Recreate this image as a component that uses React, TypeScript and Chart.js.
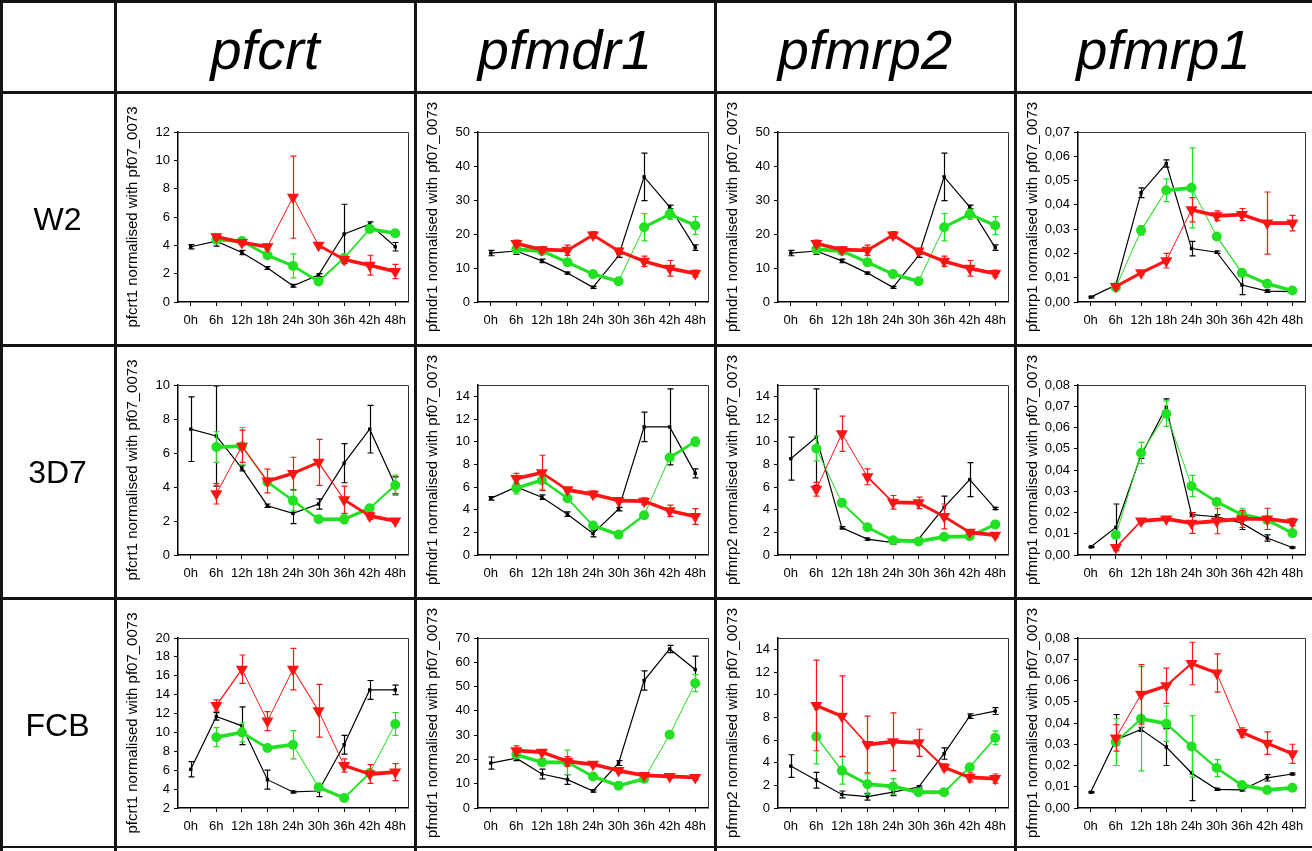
import React, { useEffect, useRef } from 'react';
import { Chart, registerables } from 'chart.js';
Chart.register(...registerables);

// ---------- labels ----------
const timeLabels = ['0h', '6h', '12h', '18h', '24h', '30h', '36h', '42h', '48h'];
const geneHeaders = ['pfcrt', 'pfmdr1', 'pfmrp2', 'pfmrp1'];
const strainLabels = ['W2', '3D7', 'FCB'];
const yTitlesW2 = ['pfcrt1 normalised with pf07_0073', 'pfmdr1 normalised with pf07_0073', 'pfmdr1 normalised with pf07_0073', 'pfmrp1 normalised with pf07_0073'];
const yTitles3D7 = ['pfcrt1 normalised with pf07_0073', 'pfmdr1 normalised with pf07_0073', 'pfmrp2 normalised with pf07_0073', 'pfmrp1 normalised with pf07_0073'];
const yTitlesFCB = ['pfcrt1 normalised with pf07_0073', 'pfmdr1 normalised with pf07_0073', 'pfmrp2 normalised with pf07_0073', 'pfmrp1 normalised with pf07_0073'];

// ---------- W2 ----------
const w2PfcrtBlack = [3.9, 4.3, 3.5, 2.4, 1.15, 1.9, 4.8, 5.5, 3.9];
const w2PfcrtBlackErr = [0.15, 0.35, 0.15, 0.1, 0.1, 0.1, 2.1, 0.15, 0.3];
const w2PfcrtGreen = [null, 4.4, 4.3, 3.3, 2.55, 1.45, 3.1, 5.15, 4.85];
const w2PfcrtGreenErr = [0, 0.25, 0.2, 0.2, 0.85, 0.15, 0.2, 0.2, 0.2];
const w2PfcrtRed = [null, 4.6, 4.2, 3.9, 7.4, 4.0, 3.0, 2.6, 2.15];
const w2PfcrtRedErr = [0, 0.2, 0.2, 0.2, 2.9, 0.2, 0.2, 0.7, 0.5];

const w2PfmdrBlack = [14.4, 15.0, 12.1, 8.5, 4.3, 13.6, 36.8, 28.0, 16.0];
const w2PfmdrBlackErr = [0.8, 1.0, 0.5, 0.3, 0.3, 0.5, 7.0, 0.5, 0.8];
const w2PfmdrGreen = [null, 15.5, 15.0, 11.7, 8.2, 6.1, 22.0, 25.8, 22.5];
const w2PfmdrGreenErr = [0, 1.0, 0.8, 1.0, 0.8, 0.6, 4.0, 1.5, 2.6];
const w2PfmdrRed = [null, 17.2, 15.4, 15.2, 19.7, 15.0, 12.0, 9.9, 8.4];
const w2PfmdrRedErr = [0, 1.0, 0.8, 1.5, 1.0, 0.8, 1.5, 2.3, 1.0];

const w2Pfmrp2Black = [14.4, 15.0, 12.1, 8.5, 4.3, 13.6, 36.8, 28.0, 16.0];
const w2Pfmrp2BlackErr = [0.8, 1.0, 0.5, 0.3, 0.3, 0.5, 7.0, 0.5, 0.8];
const w2Pfmrp2Green = [null, 15.5, 15.0, 11.7, 8.2, 6.1, 22.0, 25.8, 22.5];
const w2Pfmrp2GreenErr = [0, 1.0, 0.8, 1.0, 0.8, 0.6, 4.0, 1.5, 2.6];
const w2Pfmrp2Red = [null, 17.2, 15.4, 15.2, 19.7, 15.0, 12.0, 9.9, 8.4];
const w2Pfmrp2RedErr = [0, 1.0, 0.8, 1.5, 1.0, 0.8, 1.5, 2.3, 1.0];

const w2Pfmrp1Black = [0.002, 0.007, 0.045, 0.057, 0.022, 0.0205, 0.007, 0.0045, 0.0043];
const w2Pfmrp1BlackErr = [0.0003, 0.0007, 0.002, 0.0015, 0.003, 0.0005, 0.004, 0.0005, 0.0003];
const w2Pfmrp1Green = [null, 0.006, 0.0295, 0.046, 0.047, 0.027, 0.012, 0.0075, 0.0047];
const w2Pfmrp1GreenErr = [0, 0.0007, 0.002, 0.0047, 0.0165, 0.001, 0.001, 0.0008, 0.0005];
const w2Pfmrp1Red = [null, 0.0064, 0.012, 0.017, 0.038, 0.0355, 0.036, 0.0325, 0.0325];
const w2Pfmrp1RedErr = [0, 0.0008, 0.0008, 0.003, 0.005, 0.002, 0.0025, 0.0128, 0.0032];

// ---------- 3D7 ----------
const d7PfcrtBlack = [7.4, 7.0, 5.1, 2.9, 2.45, 3.0, 5.4, 7.4, 4.1];
const d7PfcrtBlackErr = [1.9, 2.95, 0.15, 0.1, 0.6, 0.3, 1.15, 1.4, 0.5];
const d7PfcrtGreen = [null, 6.35, 6.4, 4.3, 3.2, 2.1, 2.1, 2.75, 4.1];
const d7PfcrtGreenErr = [0, 0.9, 1.1, 0.2, 0.6, 0.15, 0.25, 0.2, 0.6];
const d7PfcrtRed = [null, 3.6, 6.4, 4.35, 4.8, 5.45, 3.25, 2.3, 2.0];
const d7PfcrtRedErr = [0, 0.6, 0.95, 0.7, 0.95, 1.35, 0.8, 0.2, 0.1];

const d7PfmdrBlack = [5.0, 6.0, 5.1, 3.6, 1.9, 4.05, 11.3, 11.3, 7.2];
const d7PfmdrBlackErr = [0.15, 0.2, 0.2, 0.2, 0.3, 0.15, 1.3, 3.35, 0.4];
const d7PfmdrGreen = [null, 5.9, 6.6, 5.0, 2.6, 1.8, 3.5, 8.6, 10.0];
const d7PfmdrGreenErr = [0, 0.5, 0.8, 0.2, 0.2, 0.15, 0.3, 0.3, 0.4];
const d7PfmdrRed = [null, 6.75, 7.25, 5.75, 5.35, 4.8, 4.75, 3.9, 3.4];
const d7PfmdrRedErr = [0, 0.45, 1.55, 0.2, 0.3, 0.15, 0.3, 0.5, 0.7];

const d7Pfmrp2Black = [8.5, 10.4, 2.4, 1.4, 1.1, 1.4, 4.2, 6.65, 4.1];
const d7Pfmrp2BlackErr = [1.9, 4.25, 0.1, 0.1, 0.15, 0.1, 1.0, 1.5, 0.1];
const d7Pfmrp2Green = [null, 9.4, 4.6, 2.45, 1.3, 1.2, 1.6, 1.65, 2.7];
const d7Pfmrp2GreenErr = [0, 1.1, 0.3, 0.2, 0.2, 0.2, 0.15, 0.15, 0.3];
const d7Pfmrp2Red = [null, 5.8, 10.7, 6.9, 4.65, 4.6, 3.4, 2.0, 1.75];
const d7Pfmrp2RedErr = [0, 0.6, 1.55, 0.7, 0.6, 0.5, 1.1, 0.15, 0.2];

const d7Pfmrp1Black = [0.0038, 0.013, 0.047, 0.0695, 0.019, 0.018, 0.015, 0.008, 0.0035];
const d7Pfmrp1BlackErr = [0.0003, 0.011, 0.0015, 0.004, 0.001, 0.001, 0.003, 0.0015, 0.0003];
const d7Pfmrp1Green = [null, 0.0094, 0.048, 0.0665, 0.0325, 0.025, 0.019, 0.0165, 0.0103];
const d7Pfmrp1GreenErr = [0, 0.001, 0.005, 0.006, 0.005, 0.001, 0.003, 0.001, 0.0008];
const d7Pfmrp1Red = [null, 0.0035, 0.016, 0.017, 0.015, 0.016, 0.017, 0.017, 0.0155];
const d7Pfmrp1RedErr = [0, 0.0005, 0.001, 0.0008, 0.0048, 0.006, 0.004, 0.005, 0.0017];

// ---------- FCB ----------
const fcbPfcrtBlack = [6.1, 11.7, 10.7, 5.0, 3.7, 3.8, 8.7, 14.5, 14.5];
const fcbPfcrtBlackErr = [0.8, 0.4, 2.0, 1.0, 0.1, 0.6, 1.0, 1.0, 0.5];
const fcbPfcrtGreen = [null, 9.5, 10.0, 8.35, 8.7, 4.2, 3.05, 5.7, 10.9];
const fcbPfcrtGreenErr = [0, 1.0, 1.0, 0.2, 1.5, 0.3, 0.2, 0.3, 1.2];
const fcbPfcrtRed = [null, 12.85, 16.7, 11.2, 16.7, 12.3, 6.5, 5.6, 5.8];
const fcbPfcrtRedErr = [0, 0.6, 1.5, 1.0, 2.2, 2.8, 0.7, 1.0, 0.9];

const fcbPfmdrBlack = [18.5, 20.5, 14.0, 11.7, 7.0, 18.5, 52.5, 65.5, 57.0];
const fcbPfmdrBlackErr = [2.5, 1.0, 2.0, 2.0, 0.5, 1.0, 4.0, 1.5, 5.5];
const fcbPfmdrGreen = [null, 22.0, 18.8, 18.8, 13.0, 9.2, 12.0, 30.2, 51.4];
const fcbPfmdrGreenErr = [0, 1.0, 1.5, 5.0, 0.5, 0.5, 0.5, 0.8, 3.5];
const fcbPfmdrRed = [null, 23.6, 23.0, 19.2, 18.0, 15.4, 13.4, 13.0, 12.6];
const fcbPfmdrRedErr = [0, 2.0, 1.0, 2.0, 1.0, 1.0, 0.8, 0.8, 1.0];

const fcbPfmrp2Black = [3.7, 2.45, 1.2, 1.0, 1.4, 1.85, 4.8, 8.1, 8.55];
const fcbPfmrp2BlackErr = [1.0, 0.7, 0.3, 0.3, 0.3, 0.1, 0.5, 0.2, 0.3];
const fcbPfmrp2Green = [null, 6.3, 3.3, 2.1, 1.9, 1.4, 1.4, 3.6, 6.2];
const fcbPfmrp2GreenErr = [0, 2.4, 1.2, 0.9, 0.7, 0.15, 0.15, 0.2, 0.6];
const fcbPfmrp2Red = [null, 9.05, 8.1, 5.6, 5.85, 5.75, 3.6, 2.7, 2.6];
const fcbPfmrp2RedErr = [0, 4.0, 3.55, 2.5, 2.55, 1.2, 0.3, 0.4, 0.4];

const fcbPfmrp1Black = [0.0074, 0.032, 0.037, 0.0287, 0.0165, 0.0088, 0.0085, 0.0142, 0.016];
const fcbPfmrp1BlackErr = [0.0003, 0.012, 0.001, 0.0087, 0.013, 0.0005, 0.0005, 0.0015, 0.0004];
const fcbPfmrp1Green = [null, 0.031, 0.042, 0.0397, 0.029, 0.0188, 0.0108, 0.0085, 0.0095];
const fcbPfmrp1GreenErr = [0, 0.011, 0.0245, 0.0083, 0.0145, 0.004, 0.0008, 0.0005, 0.0005];
const fcbPfmrp1Red = [null, 0.033, 0.0535, 0.0575, 0.068, 0.0635, 0.0355, 0.0305, 0.0255];
const fcbPfmrp1RedErr = [0, 0.0062, 0.014, 0.0083, 0.01, 0.009, 0.0022, 0.0053, 0.0045];

// ---------- layout ----------
const COL_X = [0, 115, 415, 715, 1015, 1312];
const ROW_Y = [0, 92, 345, 598, 851];
const FONT = '"Liberation Sans", Arial, Helvetica, sans-serif';
const BLACK = '#000000';
const GREEN = '#22e022';
const RED = '#ff1414';

type PanelCfg = {
  row: number; col: number; title: string;
  min: number; max: number; step: number; dec: boolean;
  black: (number | null)[]; blackErr: number[];
  green: (number | null)[]; greenErr: number[];
  red: (number | null)[]; redErr: number[];
};

const panels: PanelCfg[] = [
  { row: 0, col: 0, title: yTitlesW2[0], min: 0, max: 12, step: 2, dec: false, black: w2PfcrtBlack, blackErr: w2PfcrtBlackErr, green: w2PfcrtGreen, greenErr: w2PfcrtGreenErr, red: w2PfcrtRed, redErr: w2PfcrtRedErr },
  { row: 0, col: 1, title: yTitlesW2[1], min: 0, max: 50, step: 10, dec: false, black: w2PfmdrBlack, blackErr: w2PfmdrBlackErr, green: w2PfmdrGreen, greenErr: w2PfmdrGreenErr, red: w2PfmdrRed, redErr: w2PfmdrRedErr },
  { row: 0, col: 2, title: yTitlesW2[2], min: 0, max: 50, step: 10, dec: false, black: w2Pfmrp2Black, blackErr: w2Pfmrp2BlackErr, green: w2Pfmrp2Green, greenErr: w2Pfmrp2GreenErr, red: w2Pfmrp2Red, redErr: w2Pfmrp2RedErr },
  { row: 0, col: 3, title: yTitlesW2[3], min: 0, max: 0.07, step: 0.01, dec: true, black: w2Pfmrp1Black, blackErr: w2Pfmrp1BlackErr, green: w2Pfmrp1Green, greenErr: w2Pfmrp1GreenErr, red: w2Pfmrp1Red, redErr: w2Pfmrp1RedErr },
  { row: 1, col: 0, title: yTitles3D7[0], min: 0, max: 10, step: 2, dec: false, black: d7PfcrtBlack, blackErr: d7PfcrtBlackErr, green: d7PfcrtGreen, greenErr: d7PfcrtGreenErr, red: d7PfcrtRed, redErr: d7PfcrtRedErr },
  { row: 1, col: 1, title: yTitles3D7[1], min: 0, max: 15, step: 2, dec: false, black: d7PfmdrBlack, blackErr: d7PfmdrBlackErr, green: d7PfmdrGreen, greenErr: d7PfmdrGreenErr, red: d7PfmdrRed, redErr: d7PfmdrRedErr },
  { row: 1, col: 2, title: yTitles3D7[2], min: 0, max: 15, step: 2, dec: false, black: d7Pfmrp2Black, blackErr: d7Pfmrp2BlackErr, green: d7Pfmrp2Green, greenErr: d7Pfmrp2GreenErr, red: d7Pfmrp2Red, redErr: d7Pfmrp2RedErr },
  { row: 1, col: 3, title: yTitles3D7[3], min: 0, max: 0.08, step: 0.01, dec: true, black: d7Pfmrp1Black, blackErr: d7Pfmrp1BlackErr, green: d7Pfmrp1Green, greenErr: d7Pfmrp1GreenErr, red: d7Pfmrp1Red, redErr: d7Pfmrp1RedErr },
  { row: 2, col: 0, title: yTitlesFCB[0], min: 2, max: 20, step: 2, dec: false, black: fcbPfcrtBlack, blackErr: fcbPfcrtBlackErr, green: fcbPfcrtGreen, greenErr: fcbPfcrtGreenErr, red: fcbPfcrtRed, redErr: fcbPfcrtRedErr },
  { row: 2, col: 1, title: yTitlesFCB[1], min: 0, max: 70, step: 10, dec: false, black: fcbPfmdrBlack, blackErr: fcbPfmdrBlackErr, green: fcbPfmdrGreen, greenErr: fcbPfmdrGreenErr, red: fcbPfmdrRed, redErr: fcbPfmdrRedErr },
  { row: 2, col: 2, title: yTitlesFCB[2], min: 0, max: 15, step: 2, dec: false, black: fcbPfmrp2Black, blackErr: fcbPfmrp2BlackErr, green: fcbPfmrp2Green, greenErr: fcbPfmrp2GreenErr, red: fcbPfmrp2Red, redErr: fcbPfmrp2RedErr },
  { row: 2, col: 3, title: yTitlesFCB[3], min: 0, max: 0.08, step: 0.01, dec: true, black: fcbPfmrp1Black, blackErr: fcbPfmrp1BlackErr, green: fcbPfmrp1Green, greenErr: fcbPfmrp1GreenErr, red: fcbPfmrp1Red, redErr: fcbPfmrp1RedErr },
];

// thick lines look thinner on steep segments, like the scanned original
function segWidth(base: number) {
  return (ctx: any) => {
    const dx = ctx.p1.x - ctx.p0.x;
    const dy = ctx.p1.y - ctx.p0.y;
    const len = Math.hypot(dx, dy) || 1;
    const c = Math.abs(dx) / len;
    return Math.max(1, base * c * c);
  };
}

const errorBarPlugin = {
  id: 'errorBars',
  beforeDatasetDraw(chart: any, args: any) {
    const ds = chart.data.datasets[args.index];
    const errs = ds.errors as number[] | undefined;
    if (!errs) return;
    const ys = chart.scales.y;
    const ctx = chart.ctx;
    ctx.save();
    ctx.strokeStyle = ds.borderColor;
    ctx.lineWidth = 1.2;
    args.meta.data.forEach((pt: any, i: number) => {
      const v = ds.data[i];
      const e = errs[i];
      if (v == null || !e) return;
      const top = ys.getPixelForValue(v + e);
      const bot = ys.getPixelForValue(v - e);
      const x = Math.round(pt.x) + 0.5;
      ctx.beginPath();
      ctx.moveTo(x, top); ctx.lineTo(x, bot);
      ctx.moveTo(x - 3, top); ctx.lineTo(x + 3, top);
      ctx.moveTo(x - 3, bot); ctx.lineTo(x + 3, bot);
      ctx.stroke();
    });
    ctx.restore();
  },
};

const framePlugin = {
  id: 'frame',
  afterDraw(chart: any) {
    const { left, right, top, bottom } = chart.chartArea;
    const ctx = chart.ctx;
    ctx.save();
    ctx.strokeStyle = '#333';
    ctx.lineWidth = 1;
    ctx.beginPath();
    ctx.moveTo(left, top + 0.5);
    ctx.lineTo(right + 0.5, top + 0.5);
    ctx.lineTo(right + 0.5, bottom);
    ctx.stroke();
    ctx.restore();
  },
};

function Panel({ cfg }: { cfg: PanelCfg }) {
  const ref = useRef<HTMLCanvasElement | null>(null);
  const w = COL_X[cfg.col + 2] - COL_X[cfg.col + 1];
  const h = ROW_Y[cfg.row + 2] - ROW_Y[cfg.row + 1];
  useEffect(() => {
    if (!ref.current) return;
    const chart = new Chart(ref.current, {
      type: 'line',
      data: {
        labels: timeLabels,
        datasets: [
          {
            data: cfg.black, errors: cfg.blackErr, borderColor: BLACK, backgroundColor: BLACK,
            borderWidth: 1.2, pointStyle: 'rect', pointRadius: 2.4, pointBorderWidth: 0, order: 2,
          } as any,
          {
            data: cfg.green, errors: cfg.greenErr, borderColor: GREEN, backgroundColor: GREEN,
            borderWidth: 3.5, segment: { borderWidth: segWidth(3.8) }, pointStyle: 'circle', pointRadius: 5, pointBorderWidth: 0, order: 1,
          } as any,
          {
            data: cfg.red, errors: cfg.redErr, borderColor: RED, backgroundColor: RED,
            borderWidth: 3.5, segment: { borderWidth: segWidth(3.8) }, pointStyle: 'triangle', rotation: 180, pointRadius: 7, pointBorderWidth: 0, order: 0,
          } as any,
        ],
      },
      options: {
        responsive: false,
        animation: false,
        layout: { padding: { top: 40, right: w - 294, left: 0, bottom: 0 } },
        plugins: { legend: { display: false }, tooltip: { enabled: false } },
        scales: {
          x: {
            type: 'category',
            offset: true,
            grid: { offset: false, drawOnChartArea: false, drawTicks: true, tickLength: 4, color: '#000' },
            border: { color: '#000', width: 1.5 },
            ticks: { autoSkip: false, maxRotation: 0, minRotation: 0, padding: 7, color: '#000', font: { family: FONT, size: 13 } },
            afterFit: (s: any) => { s.height = h - 40 - 170; },
          },
          y: {
            min: cfg.min,
            max: cfg.max,
            grid: { drawOnChartArea: false, drawTicks: true, tickLength: 4, color: '#000' },
            border: { color: '#000', width: 1.5 },
            ticks: {
              stepSize: cfg.step,
              includeBounds: false,
              padding: 4,
              color: '#000',
              font: { family: FONT, size: 13 },
              callback: (v: any) => cfg.dec ? Number(v).toFixed(2).replace('.', ',') : String(Math.round(Number(v))),
            },
            title: { display: true, text: cfg.title, color: '#000', font: { family: FONT, size: 15 }, padding: { top: 9, bottom: 0 } },
            afterFit: (s: any) => { s.width = 63; },
          },
        },
      } as any,
      plugins: [errorBarPlugin, framePlugin],
    });
    return () => chart.destroy();
  }, [cfg, w, h]);
  return (
    <canvas
      ref={ref}
      width={w}
      height={h}
      style={{ position: 'absolute', left: COL_X[cfg.col + 1], top: ROW_Y[cfg.row + 1], width: w, height: h }}
    />
  );
}

export default function App() {
  const lineColor = '#141414';
  const vLines = COL_X.slice(0, 5);
  const hLines = ROW_Y.slice(0, 4);
  return (
    <div style={{ position: 'absolute', left: 0, top: 0, width: 1312, height: 851, background: '#fff', overflow: 'hidden', fontFamily: FONT }}>
      {panels.map((p, i) => <Panel key={i} cfg={p} />)}
      {vLines.map((x, i) => (
        <div key={'v' + i} style={{ position: 'absolute', left: x === 0 ? 0 : x - 1, top: 0, width: 3, height: 851, background: lineColor }} />
      ))}
      {hLines.map((y, i) => (
        <div key={'h' + i} style={{ position: 'absolute', left: 0, top: y === 0 ? 0 : y - 1, width: 1312, height: 3, background: lineColor }} />
      ))}
      <div style={{ position: 'absolute', left: 0, top: 846, width: 1312, height: 2, background: lineColor }} />
      {geneHeaders.map((g, i) => (
        <div key={'g' + i} style={{ position: 'absolute', left: COL_X[i + 1], top: 4, width: COL_X[i + 2] - COL_X[i + 1], height: 92, display: 'flex', alignItems: 'center', justifyContent: 'center', fontStyle: 'italic', fontSize: 56, color: '#000', lineHeight: 1 }}>
          {g}
        </div>
      ))}
      {strainLabels.map((s, i) => (
        <div key={'s' + i} style={{ position: 'absolute', left: 0, top: ROW_Y[i + 1], width: 115, height: ROW_Y[i + 2] - ROW_Y[i + 1], display: 'flex', alignItems: 'center', justifyContent: 'center', fontSize: 32, color: '#000', lineHeight: 1 }}>
          {s}
        </div>
      ))}
    </div>
  );
}
